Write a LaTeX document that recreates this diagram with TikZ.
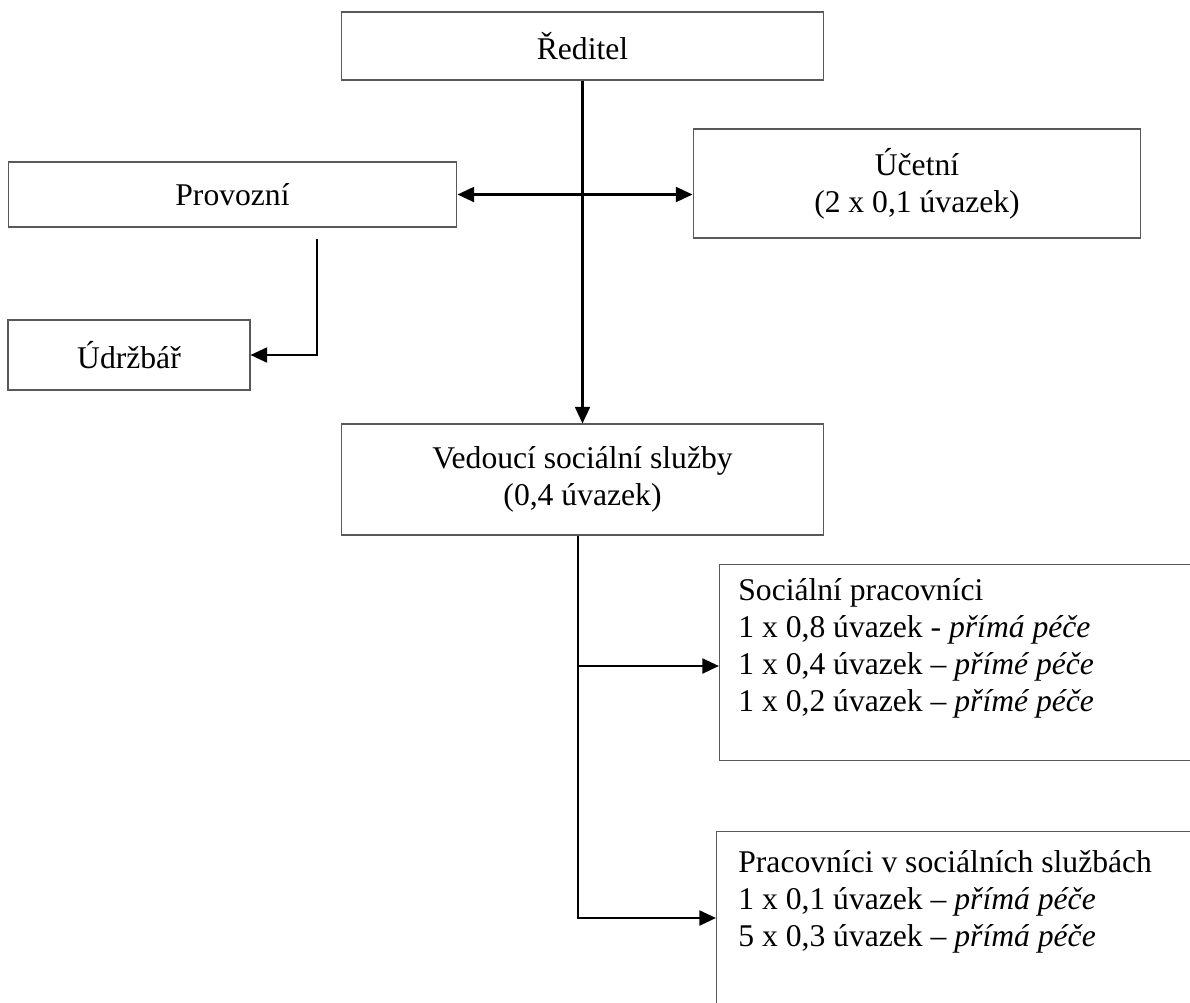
\documentclass[tikz,border=0pt]{standalone}
\usepackage{fontspec}
\setmainfont{Liberation Serif}
\usetikzlibrary{arrows.meta}

\begin{document}
\begin{tikzpicture}[x = 0.02cm, y = -0.02cm,
	box/.style = {draw=black!65, line width=0.6pt, fill=white, inner sep=0pt, align=center, font=\fontsize{18}{21}\selectfont},
	boxtext/.style = {inner sep=0pt, align=left, font=\fontsize{18}{21}\selectfont},
	spoj/.style = {draw=black, line width=1.4pt, -{Triangle[length=9.5pt, width=8.5pt]}},]
		
		\path[use as bounding box, clip] (0,0) rectangle (1190,1002);
		
		\node[box, minimum width=9.66cm, minimum height=1.36cm] (reditel) at (582.5,46) {Ředitel};
		\node[box, minimum width=8.98cm, minimum height=1.30cm] (provozni) at (232.5,194.5) {Provozní};
		\node[box, minimum width=8.96cm, minimum height=2.18cm] (ucetni) at (917,183.5) {Účetní\\(2 x 0,1 úvazek)};
		\node[box, minimum width=4.84cm, minimum height=1.40cm] (udrzbar) at (129,355) {Údržbář};
		\node[box, minimum width=9.66cm, minimum height=2.22cm] (vedouci) at (582.5,479.5) {Vedoucí sociální služby\\(0,4 úvazek)};
		\node[box, minimum width=12cm, minimum height=3.92cm, anchor=north west] (socialni) at (719,564) {};
		\node[box, minimum width=12cm, minimum height=6cm, anchor=north west] (pracovnici) at (716,831) {};
		
		\node[boxtext, anchor=north west] (socialnitext) at (738,578) {Sociální pracovníci\\1 x 0,8 úvazek - \textit{přímá péče}\\1 x 0,4 úvazek – \textit{přímé péče}\\1 x 0,2 úvazek – \textit{přímé péče}};
		\node[boxtext, anchor=north west] (pracovnicitext) at (738,850) {Pracovníci v sociálních službách\\1 x 0,1 úvazek – \textit{přímá péče}\\5 x 0,3 úvazek – \textit{přímá péče}};
		
		\coordinate (drop) at (317,239);
		\coordinate (knee1) at (578,666);
		\coordinate (knee2) at (578,918);
		
		\draw[spoj] (reditel.south) -- (vedouci.north);
		\draw[spoj, {Triangle[length=9.5pt, width=8.5pt]}-{Triangle[length=9.5pt, width=8.5pt]}] (provozni.east) -- (provozni.east -| ucetni.west);
		\draw[spoj] (drop) |- (udrzbar.east);
		\draw[spoj] (vedouci.south -| knee2) -- (knee2) -- (knee2 -| pracovnici.west);
		\draw[spoj] (knee1) -- (knee1 -| socialni.west);
		
	\end{tikzpicture}
\end{document}
